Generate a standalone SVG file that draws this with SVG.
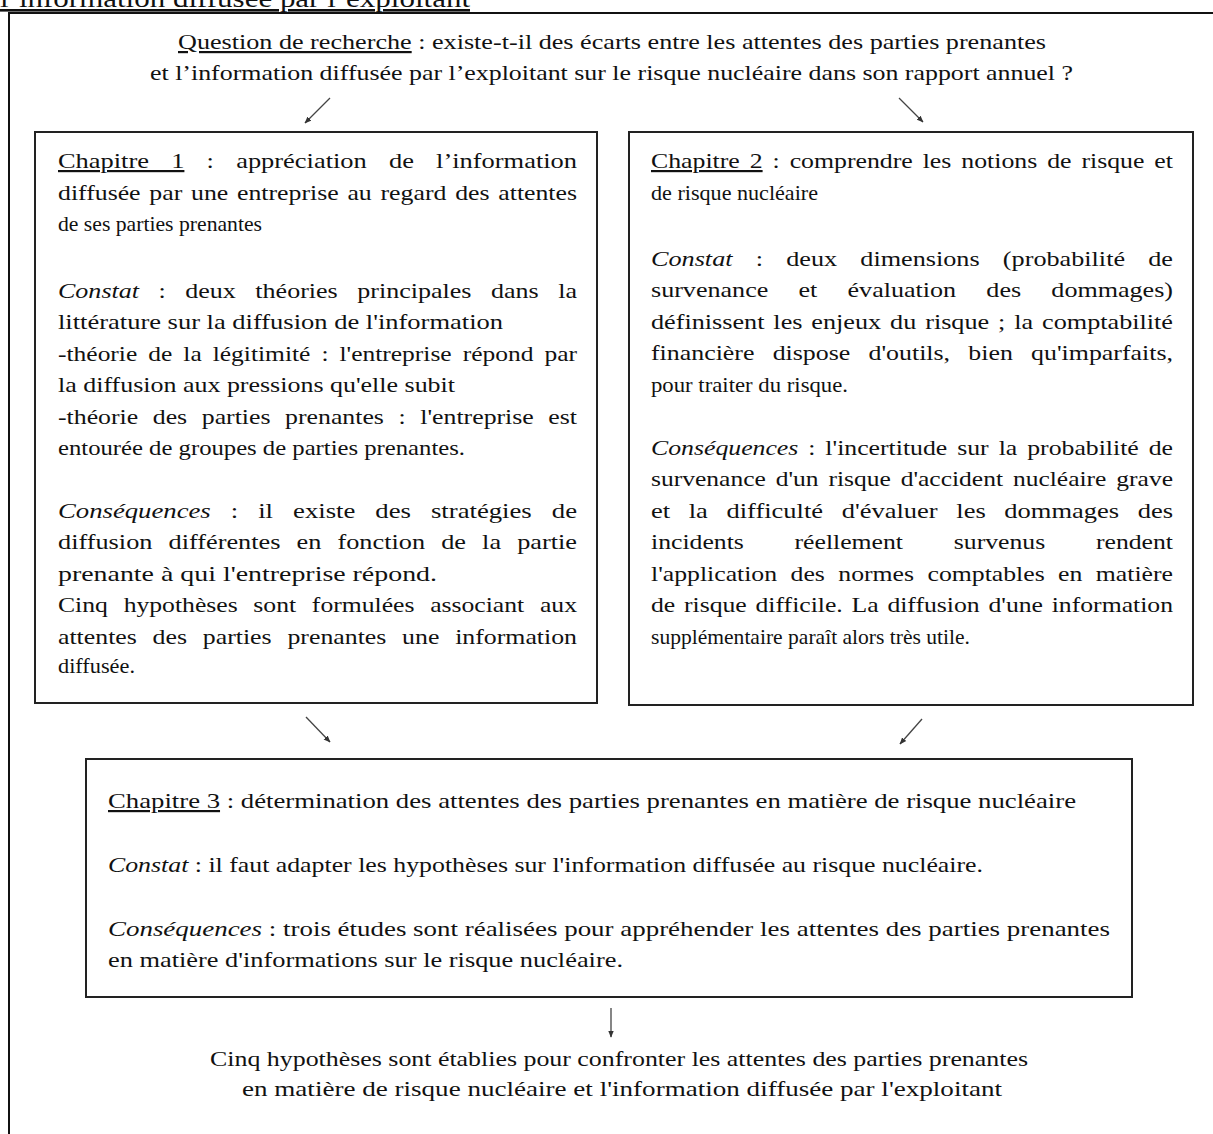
<svg xmlns="http://www.w3.org/2000/svg" width="1213" height="1134" viewBox="0 0 1213 1134">
  <defs>
    <style>
      text { font-family: "Liberation Serif", "Times New Roman", serif; font-size: 22px; fill: #111; }
      .title { font-size: 26px; }
      .box { fill: none; stroke: #222; stroke-width: 2; }
      .frame { fill: none; stroke: #111; stroke-width: 2; }
      .u { text-decoration: underline; }
      .i { font-style: italic; }
      .arrow { stroke: #444; stroke-width: 1.3; fill: none; marker-end: url(#head); }
    </style>
    <marker id="head" viewBox="0 0 10 10" refX="9" refY="5" markerWidth="7" markerHeight="7" orient="auto" markerUnits="userSpaceOnUse">
      <path d="M0,1 L10,5 L0,9 z" fill="#333"/>
    </marker>
  </defs>

  <rect width="1213" height="1134" fill="#fff"/>

  <!-- page heading, cut by the top edge -->
  <text class="title u" x="0" y="7" textLength="470" lengthAdjust="spacingAndGlyphs">l’information diffusée par l’exploitant</text>

  <!-- outer frame (top and left edges only) -->
  <path class="frame" d="M9,1134 V13 H1213"/>

  <!-- research question -->
  <g id="question">
    <text x="178" y="49" textLength="868" lengthAdjust="spacingAndGlyphs"><tspan class="u">Question de recherche</tspan> : existe-t-il des écarts entre les attentes des parties prenantes</text>
    <text x="150" y="80" textLength="923" lengthAdjust="spacingAndGlyphs">et l’information diffusée par l’exploitant sur le risque nucléaire dans son rapport annuel ?</text>
  </g>

  <!-- chapter 1 -->
  <g id="chapitre1">
    <rect class="box" x="35" y="132" width="562" height="571"/>
    <text x="58" y="168" word-spacing="13" textLength="519" lengthAdjust="spacingAndGlyphs"><tspan class="u">Chapitre 1</tspan> : appréciation de l’information</text>
    <text x="58" y="200" word-spacing="2" textLength="519" lengthAdjust="spacingAndGlyphs">diffusée par une entreprise au regard des attentes</text>
    <text x="58" y="231" textLength="204" lengthAdjust="spacingAndGlyphs">de ses parties prenantes</text>
    <text x="58" y="298" word-spacing="11" textLength="519" lengthAdjust="spacingAndGlyphs"><tspan class="i">Constat</tspan> : deux théories principales dans la</text>
    <text x="58" y="329" textLength="445" lengthAdjust="spacingAndGlyphs">littérature sur la diffusion de l'information</text>
    <text x="58" y="361" word-spacing="4" textLength="519" lengthAdjust="spacingAndGlyphs">-théorie de la légitimité : l'entreprise répond par</text>
    <text x="58" y="392" textLength="397" lengthAdjust="spacingAndGlyphs">la diffusion aux pressions qu'elle subit</text>
    <text x="58" y="424" word-spacing="7" textLength="519" lengthAdjust="spacingAndGlyphs">-théorie des parties prenantes : l'entreprise est</text>
    <text x="58" y="455" textLength="407" lengthAdjust="spacingAndGlyphs">entourée de groupes de parties prenantes.</text>
    <text x="58" y="518" word-spacing="11" textLength="519" lengthAdjust="spacingAndGlyphs"><tspan class="i">Conséquences</tspan> : il existe des stratégies de</text>
    <text x="58" y="549" word-spacing="8" textLength="519" lengthAdjust="spacingAndGlyphs">diffusion différentes en fonction de la partie</text>
    <text x="58" y="581" textLength="379" lengthAdjust="spacingAndGlyphs">prenante à qui l'entreprise répond.</text>
    <text x="58" y="612" word-spacing="8" textLength="519" lengthAdjust="spacingAndGlyphs">Cinq hypothèses sont formulées associant aux</text>
    <text x="58" y="644" word-spacing="8" textLength="519" lengthAdjust="spacingAndGlyphs">attentes des parties prenantes une information</text>
    <text x="58" y="673" textLength="77" lengthAdjust="spacingAndGlyphs">diffusée.</text>
  </g>

  <!-- chapter 2 -->
  <g id="chapitre2">
    <rect class="box" x="629" y="132" width="564" height="573"/>
    <text x="651" y="168" word-spacing="3" textLength="522" lengthAdjust="spacingAndGlyphs"><tspan class="u">Chapitre 2</tspan> : comprendre les notions de risque et</text>
    <text x="651" y="200" textLength="167" lengthAdjust="spacingAndGlyphs">de risque nucléaire</text>
    <text x="651" y="266" word-spacing="14" textLength="522" lengthAdjust="spacingAndGlyphs"><tspan class="i">Constat</tspan> : deux dimensions (probabilité de</text>
    <text x="651" y="297" word-spacing="20" textLength="522" lengthAdjust="spacingAndGlyphs">survenance et évaluation des dommages)</text>
    <text x="651" y="329" word-spacing="2" textLength="522" lengthAdjust="spacingAndGlyphs">définissent les enjeux du risque ; la comptabilité</text>
    <text x="651" y="360" word-spacing="10" textLength="522" lengthAdjust="spacingAndGlyphs">financière dispose d'outils, bien qu'imparfaits,</text>
    <text x="651" y="392" textLength="197" lengthAdjust="spacingAndGlyphs">pour traiter du risque.</text>
    <text x="651" y="455" word-spacing="3" textLength="522" lengthAdjust="spacingAndGlyphs"><tspan class="i">Conséquences</tspan> : l'incertitude sur la probabilité de</text>
    <text x="651" y="486" word-spacing="3" textLength="522" lengthAdjust="spacingAndGlyphs">survenance d'un risque d'accident nucléaire grave</text>
    <text x="651" y="518" word-spacing="10" textLength="522" lengthAdjust="spacingAndGlyphs">et la difficulté d'évaluer les dommages des</text>
    <text x="651" y="549" word-spacing="38" textLength="522" lengthAdjust="spacingAndGlyphs">incidents réellement survenus rendent</text>
    <text x="651" y="581" word-spacing="6" textLength="522" lengthAdjust="spacingAndGlyphs">l'application des normes comptables en matière</text>
    <text x="651" y="612" word-spacing="2" textLength="522" lengthAdjust="spacingAndGlyphs">de risque difficile. La diffusion d'une information</text>
    <text x="651" y="644" textLength="319" lengthAdjust="spacingAndGlyphs">supplémentaire paraît alors très utile.</text>
  </g>

  <!-- chapter 3 -->
  <g id="chapitre3">
    <rect class="box" x="86" y="759" width="1046" height="238"/>
    <text x="108" y="808" textLength="968" lengthAdjust="spacingAndGlyphs"><tspan class="u">Chapitre 3</tspan> : détermination des attentes des parties prenantes en matière de risque nucléaire</text>
    <text x="108" y="872" textLength="875" lengthAdjust="spacingAndGlyphs"><tspan class="i">Constat</tspan> : il faut adapter les hypothèses sur l'information diffusée au risque nucléaire.</text>
    <text x="108" y="936" textLength="1002" lengthAdjust="spacingAndGlyphs"><tspan class="i">Conséquences</tspan> : trois études sont réalisées pour appréhender les attentes des parties prenantes</text>
    <text x="108" y="967" textLength="515" lengthAdjust="spacingAndGlyphs">en matière d'informations sur le risque nucléaire.</text>
  </g>

  <!-- conclusion -->
  <g id="conclusion">
    <text x="210" y="1066" textLength="818" lengthAdjust="spacingAndGlyphs">Cinq hypothèses sont établies pour confronter les attentes des parties prenantes</text>
    <text x="242" y="1096" textLength="760" lengthAdjust="spacingAndGlyphs">en matière de risque nucléaire et l'information diffusée par l'exploitant</text>
  </g>

  <!-- connectors -->
  <g id="connectors">
    <line class="arrow" x1="330" y1="98" x2="305" y2="123"/>
    <line class="arrow" x1="899" y1="98" x2="923" y2="122"/>
    <line class="arrow" x1="306" y1="717" x2="330" y2="742"/>
    <line class="arrow" x1="922" y1="719" x2="900" y2="744"/>
    <line class="arrow" x1="611" y1="1008" x2="611" y2="1037"/>
  </g>
</svg>
